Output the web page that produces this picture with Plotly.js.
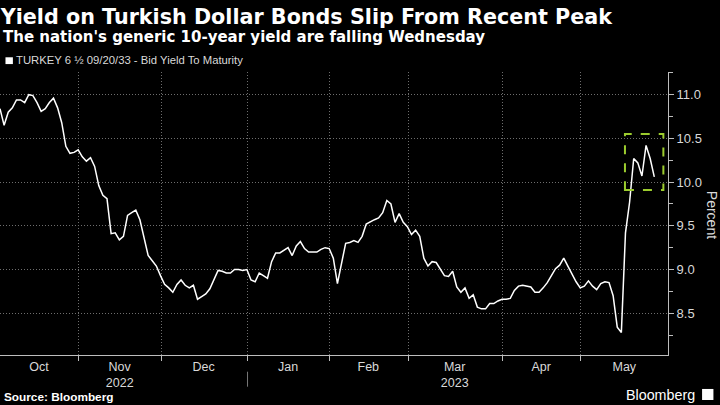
<!DOCTYPE html>
<html>
<head>
<meta charset="utf-8">
<script src="https://cdn.plot.ly/plotly-3.0.1.min.js"></script>
<style>
html,body{margin:0;padding:0;background:#000;}
#chart{width:720px;height:405px;}
</style>
</head>
<body>
<div id="chart"></div>
<script>
// Trading days (US bond market calendar) and bid yield to maturity (%)
const dates = [
 '2022-10-03','2022-10-04','2022-10-05','2022-10-06','2022-10-07','2022-10-11','2022-10-12','2022-10-13','2022-10-14','2022-10-17',
 '2022-10-18','2022-10-19','2022-10-20','2022-10-21','2022-10-24','2022-10-25','2022-10-26','2022-10-27','2022-10-28','2022-10-31',
 '2022-11-01','2022-11-02','2022-11-03','2022-11-04','2022-11-07','2022-11-08','2022-11-09','2022-11-10','2022-11-14','2022-11-15',
 '2022-11-16','2022-11-17','2022-11-18','2022-11-21','2022-11-22','2022-11-23','2022-11-25','2022-11-28','2022-11-29','2022-11-30',
 '2022-12-01','2022-12-02','2022-12-05','2022-12-06','2022-12-07','2022-12-08','2022-12-09','2022-12-12','2022-12-13','2022-12-14',
 '2022-12-15','2022-12-16','2022-12-19','2022-12-20','2022-12-21','2022-12-22','2022-12-23','2022-12-27','2022-12-28','2022-12-29',
 '2022-12-30','2023-01-03','2023-01-04','2023-01-05','2023-01-06','2023-01-09','2023-01-10','2023-01-11','2023-01-12','2023-01-13',
 '2023-01-17','2023-01-18','2023-01-19','2023-01-20','2023-01-23','2023-01-24','2023-01-25','2023-01-26','2023-01-27','2023-01-30',
 '2023-01-31','2023-02-01','2023-02-02','2023-02-03','2023-02-06','2023-02-07','2023-02-08','2023-02-09','2023-02-10','2023-02-13',
 '2023-02-14','2023-02-15','2023-02-16','2023-02-17','2023-02-21','2023-02-22','2023-02-23','2023-02-24','2023-02-27','2023-02-28',
 '2023-03-01','2023-03-02','2023-03-03','2023-03-06','2023-03-07','2023-03-08','2023-03-09','2023-03-10','2023-03-13','2023-03-14',
 '2023-03-15','2023-03-16','2023-03-17','2023-03-20','2023-03-21','2023-03-22','2023-03-23','2023-03-24','2023-03-27','2023-03-28',
 '2023-03-29','2023-03-30','2023-03-31','2023-04-03','2023-04-04','2023-04-05','2023-04-06','2023-04-10','2023-04-11','2023-04-12',
 '2023-04-13','2023-04-14','2023-04-17','2023-04-18','2023-04-19','2023-04-20','2023-04-21','2023-04-24','2023-04-25','2023-04-26',
 '2023-04-27','2023-04-28','2023-05-01','2023-05-02','2023-05-03','2023-05-04','2023-05-05','2023-05-08','2023-05-09','2023-05-10',
 '2023-05-11','2023-05-12','2023-05-15','2023-05-16','2023-05-17','2023-05-18','2023-05-19','2023-05-22','2023-05-23','2023-05-24'
];
const yields = [
 10.84,10.65,10.80,10.85,10.94,10.94,10.91,11.00,10.99,10.91,
 10.81,10.84,10.91,10.96,10.85,10.68,10.41,10.33,10.34,10.37,
 10.29,10.24,10.28,10.18,9.96,9.85,9.81,9.41,9.42,9.34,
 9.38,9.62,9.65,9.68,9.57,9.38,9.16,9.10,9.04,8.93,
 8.83,8.79,8.74,8.83,8.88,8.82,8.79,8.82,8.66,8.69,
 8.72,8.78,8.88,8.99,8.98,8.96,8.96,9.00,9.00,8.99,
 9.00,8.88,8.86,8.96,8.93,8.90,9.09,9.19,9.19,9.22,
 9.25,9.16,9.27,9.32,9.24,9.20,9.20,9.20,9.23,9.25,
 9.24,9.13,8.84,9.09,9.30,9.31,9.33,9.31,9.38,9.52,
 9.55,9.57,9.59,9.65,9.79,9.75,9.54,9.64,9.54,9.49,
 9.40,9.45,9.38,9.13,9.04,9.09,9.08,9.00,8.93,8.92,
 8.98,8.80,8.74,8.79,8.67,8.71,8.57,8.55,8.55,8.61,
 8.61,8.64,8.66,8.66,8.67,8.76,8.81,8.82,8.81,8.80,
 8.74,8.74,8.79,8.85,8.93,9.01,9.05,9.13,9.04,8.95,
 8.86,8.79,8.81,8.87,8.81,8.77,8.84,8.86,8.85,8.70,
 8.34,8.28,9.42,9.77,10.27,10.22,10.07,10.42,10.27,10.06
];
// Non-trading weekdays (removed from the axis)
const holidays = ['2022-10-10','2022-11-11','2022-11-24','2022-12-26','2023-01-02','2023-01-16','2023-02-20','2023-04-07','2023-05-29'];
// Month boundaries (gridlines) and month label positions
const monthBounds = ['2022-10-31 03:36','2022-11-30 03:36','2022-12-30 03:36','2023-01-31 03:36','2023-02-28 03:36','2023-03-31 03:36','2023-04-28 03:36'];
const monthLabelPos = ['2022-10-17 12:00','2022-11-15 02:00','2022-12-14 12:00','2023-01-17 00:00','2023-02-13 12:00','2023-03-15 12:00','2023-04-14 12:00','2023-05-12 17:00'];
const monthLabels = ['Oct','Nov<br>2022','Dec','Jan','Feb','Mar<br>2023','Apr','May'];
const xRange = ['2022-10-03 00:00','2023-05-30 08:00'];
const yRange = [8.022, 11.26];
// Highlight box round the recent peak
const boxX = ['2023-05-12 21:00','2023-05-26 05:00'];
const boxY = [9.91, 10.55];

const seriesName = 'TURKEY 6 ½ 09/20/33 - Bid Yield To Maturity';
const titleText = 'Yield on Turkish Dollar Bonds Slip From Recent Peak';
const subtitleText = "The nation's generic 10-year yield are falling Wednesday";

const axisGrey = '#bdbdbd';
const gridGrey = '#6e6e6e';
const txtGrey = '#d9d9d9';
const sans = 'Liberation Sans, Arial, sans-serif';
const head = 'DejaVu Sans, sans-serif';

const trace = {
  x: dates, y: yields, type: 'scatter', mode: 'lines', name: seriesName,
  line: {color: '#ffffff', width: 1.5}, hoverinfo: 'skip'
};

const layout = {
  width: 720, height: 405,
  paper_bgcolor: '#000000', plot_bgcolor: '#000000',
  margin: {l: 0, r: 52, t: 72, b: 50},
  showlegend: false,
  title: {
    text: '<b>' + titleText + '</b>',
    font: {family: head, size: 20.7, color: '#ffffff'},
    x: 0.001, xanchor: 'left', xref: 'container',
    y: 1 - 16.5/405, yanchor: 'middle', yref: 'container'
  },
  xaxis: {
    type: 'date', range: xRange,
    rangebreaks: [{bounds: ['sat', 'mon']}, {values: holidays}],
    tickmode: 'array', tickvals: monthLabelPos, ticktext: monthLabels,
    ticks: '', showgrid: false, zeroline: false,
    showline: true, linecolor: axisGrey, linewidth: 1,
    tickfont: {family: sans, size: 12.5, color: txtGrey},
    minor: {tickmode: 'array', tickvals: monthBounds, showgrid: true, griddash: '1px,2px',
            gridcolor: gridGrey, gridwidth: 1, ticks: 'outside', ticklen: 5, tickcolor: axisGrey, tickwidth: 1},
    fixedrange: true
  },
  yaxis: {
    side: 'right', range: yRange,
    tickmode: 'linear', tick0: 0, dtick: 0.5, tickformat: '.1f',
    ticks: 'outside', ticklen: 5, tickcolor: axisGrey,
    showline: true, linecolor: axisGrey, linewidth: 1,
    showgrid: true, griddash: '1px,2px', gridcolor: gridGrey, gridwidth: 1,
    zeroline: false,
    tickfont: {family: sans, size: 13, color: txtGrey},
    minor: {dtick: 0.25, tick0: 0, ticks: 'outside', ticklen: 4, tickcolor: axisGrey, showgrid: false},
    fixedrange: true
  },
  shapes: [
    {type: 'rect', xref: 'x', yref: 'y', x0: boxX[0], x1: boxX[1], y0: boxY[0], y1: boxY[1],
     line: {color: '#9ccc2e', width: 2, dash: 'dash'}, fillcolor: 'rgba(0,0,0,0)'},
    // legend swatch
    {type: 'rect', xref: 'paper', yref: 'paper', x0: 0.0082, x1: 0.0193, y0: 1.028, y1: 1.052,
     line: {width: 0}, fillcolor: '#ffffff'},
    // year separator under the axis
    {type: 'line', xref: 'x', yref: 'paper', x0: monthBounds[2], x1: monthBounds[2], y0: -0.059, y1: -0.112,
     line: {color: '#777777', width: 1}},
    // Bloomberg logo square
    {type: 'rect', xref: 'paper', yref: 'paper', x0: 1.051, x1: 1.068, y0: -0.159, y1: -0.12,
     line: {width: 0}, fillcolor: '#ffffff'}
  ],
  annotations: [
    {text: '<b>' + subtitleText + '</b>', xref: 'paper', yref: 'paper', x: 0.001, y: 1.1235,
     xanchor: 'left', yanchor: 'middle', showarrow: false,
     font: {family: head, size: 15, color: '#ffffff'}},
    {text: seriesName, xref: 'paper', yref: 'paper', x: 0.021, y: 1.042,
     xanchor: 'left', yanchor: 'middle', showarrow: false,
     font: {family: sans, size: 11.3, color: txtGrey}},
    {text: 'Percent', xref: 'paper', yref: 'paper', x: 1.066, y: 0.495,
     xanchor: 'center', yanchor: 'middle', showarrow: false, textangle: 90,
     font: {family: sans, size: 14, color: txtGrey}},
    {text: '<b>Source: Bloomberg</b>', xref: 'paper', yref: 'paper', x: 0.003, y: -0.148,
     xanchor: 'left', yanchor: 'middle', showarrow: false,
     font: {family: sans, size: 11.8, color: '#ffffff'}},
    {text: 'Bloomberg', xref: 'paper', yref: 'paper', x: 1.043, y: -0.141,
     xanchor: 'right', yanchor: 'middle', showarrow: false,
     font: {family: sans, size: 14.3, color: '#ffffff'}}
  ]
};

Plotly.newPlot('chart', [trace], layout, {staticPlot: true, displayModeBar: false});
</script>
</body>
</html>
